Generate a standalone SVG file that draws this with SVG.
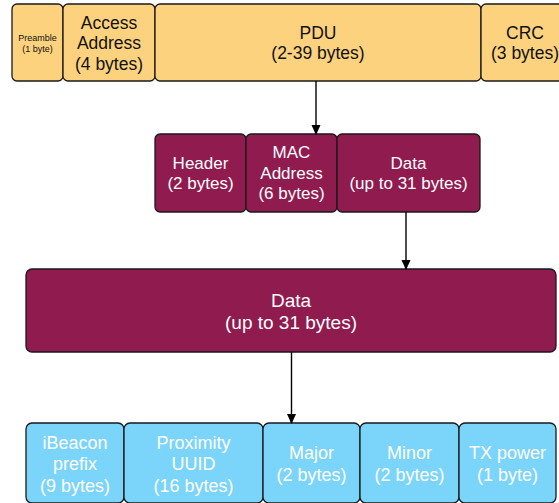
<svg xmlns="http://www.w3.org/2000/svg" width="559" height="503" viewBox="0 0 559 503">
<style>
  .seg { stroke: #1a1a1a; stroke-width: 1.3; }
  .or { fill: #fdd27f; }
  .mr { fill: #8f1b4f; }
  .bl { fill: #7bd4fa; }
  text { font-family: "Liberation Sans", Arial, sans-serif; text-anchor: middle; }
  .dk { fill: #111; font-size: 17.5px; }
  .wt { fill: #ffffff; font-size: 17px; }
  .wl { fill: #ffffff; font-size: 19px; }
  .wb { fill: #ffffff; font-size: 18px; }
  .sm { fill: #111; font-size: 9px; }
  .conn { stroke: #000; stroke-width: 1.4; fill: none; }
</style>
<defs>
  <marker id="ah" markerWidth="10" markerHeight="10" refX="9" refY="4.5" orient="auto" markerUnits="userSpaceOnUse">
    <path d="M0,0 L10,4.5 L0,9 Z" fill="#000"/>
  </marker>
</defs>
<rect width="559" height="503" fill="#ffffff"/>

<g id="preamble"><rect class="seg or" x="12" y="4" width="51" height="77" rx="5"/>
  <text class="sm" x="37.5" y="41">Preamble</text><text class="sm" x="37.5" y="52">(1 byte)</text></g>
<g id="access-address"><rect class="seg or" x="63" y="4" width="92" height="77" rx="5"/>
  <text class="dk" x="109" y="29">Access</text><text class="dk" x="109" y="49">Address</text><text class="dk" x="109" y="69.5">(4 bytes)</text></g>
<g id="pdu"><rect class="seg or" x="155" y="4" width="326" height="77" rx="5"/>
  <text class="dk" x="318" y="38.5">PDU</text><text class="dk" x="318" y="58.5">(2-39 bytes)</text></g>
<g id="crc"><rect class="seg or" x="481" y="4" width="90" height="77" rx="5"/>
  <text class="dk" x="525" y="38.5">CRC</text><text class="dk" x="525" y="58.5">(3 bytes)</text></g>

<g id="header"><rect class="seg mr" x="155" y="134" width="91" height="78" rx="5"/>
  <text class="wt" x="200.5" y="169">Header</text><text class="wt" x="200.5" y="189">(2 bytes)</text></g>
<g id="mac-address"><rect class="seg mr" x="246" y="134" width="91" height="78" rx="5"/>
  <text class="wt" x="291.5" y="158">MAC</text><text class="wt" x="291.5" y="178.5">Address</text><text class="wt" x="291.5" y="199">(6 bytes)</text></g>
<g id="data-small"><rect class="seg mr" x="337" y="134" width="143" height="78" rx="5"/>
  <text class="wt" x="408.5" y="169">Data</text><text class="wt" x="408.5" y="189">(up to 31 bytes)</text></g>

<g id="data-large"><rect class="seg mr" x="26" y="269" width="530" height="83" rx="6"/>
  <text class="wl" x="291" y="306.5">Data</text><text class="wl" x="291" y="329">(up to 31 bytes)</text></g>

<g id="ibeacon-prefix"><rect class="seg bl" x="26" y="423" width="98" height="80" rx="6"/>
  <text class="wb" x="75" y="448.5">iBeacon</text><text class="wb" x="75" y="469.5">prefix</text><text class="wb" x="75" y="491.5">(9 bytes)</text></g>
<g id="proximity-uuid"><rect class="seg bl" x="124" y="423" width="139" height="80" rx="6"/>
  <text class="wb" x="193.5" y="448.5">Proximity</text><text class="wb" x="193.5" y="469.5">UUID</text><text class="wb" x="193.5" y="491.5">(16 bytes)</text></g>
<g id="major"><rect class="seg bl" x="263" y="423" width="97" height="80" rx="6"/>
  <text class="wb" x="311.5" y="458.5">Major</text><text class="wb" x="311.5" y="480.5">(2 bytes)</text></g>
<g id="minor"><rect class="seg bl" x="360" y="423" width="99" height="80" rx="6"/>
  <text class="wb" x="409.5" y="458.5">Minor</text><text class="wb" x="409.5" y="480.5">(2 bytes)</text></g>
<g id="tx-power"><rect class="seg bl" x="459" y="423" width="97" height="80" rx="6"/>
  <text class="wb" x="507.5" y="458.5">TX power</text><text class="wb" x="507.5" y="480.5">(1 byte)</text></g>

<g id="connectors">
  <line class="conn" x1="316" y1="81" x2="316" y2="134" marker-end="url(#ah)"/>
  <line class="conn" x1="406" y1="212" x2="406" y2="269" marker-end="url(#ah)"/>
  <line class="conn" x1="291.5" y1="352" x2="291.5" y2="423" marker-end="url(#ah)"/>
</g>
</svg>
